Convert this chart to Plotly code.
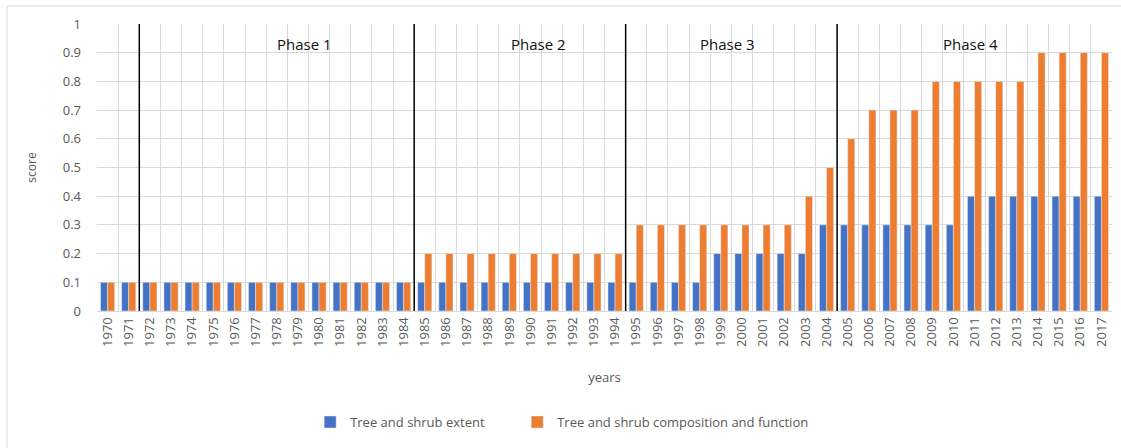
"""Tree and shrub scores by year, grouped bars with phase dividers."""
import plotly.graph_objects as go

YEARS = [str(y) for y in range(1970, 2018)]

EXTENT = [
    0.1, 0.1, 0.1, 0.1, 0.1, 0.1, 0.1, 0.1, 0.1, 0.1,   # 1970-1979
    0.1, 0.1, 0.1, 0.1, 0.1, 0.1, 0.1, 0.1, 0.1, 0.1,   # 1980-1989
    0.1, 0.1, 0.1, 0.1, 0.1, 0.1, 0.1, 0.1, 0.1, 0.2,   # 1990-1999
    0.2, 0.2, 0.2, 0.2, 0.3, 0.3, 0.3, 0.3, 0.3, 0.3,   # 2000-2009
    0.3, 0.4, 0.4, 0.4, 0.4, 0.4, 0.4, 0.4,             # 2010-2017
]
COMPOSITION = [
    0.1, 0.1, 0.1, 0.1, 0.1, 0.1, 0.1, 0.1, 0.1, 0.1,   # 1970-1979
    0.1, 0.1, 0.1, 0.1, 0.1, 0.2, 0.2, 0.2, 0.2, 0.2,   # 1980-1989
    0.2, 0.2, 0.2, 0.2, 0.2, 0.3, 0.3, 0.3, 0.3, 0.3,   # 1990-1999
    0.3, 0.3, 0.3, 0.4, 0.5, 0.6, 0.7, 0.7, 0.7, 0.8,   # 2000-2009
    0.8, 0.8, 0.8, 0.8, 0.9, 0.9, 0.9, 0.9,             # 2010-2017
]

PHASE_STARTS = ["1972", "1985", "1995", "2005"]
PHASE_LABELS = ["Phase 1", "Phase 2", "Phase 3", "Phase 4"]
PHASE_LABEL_X = [9.3, 20.4, 29.3, 40.8]  # category index where each label sits

BLUE = "#4472C4"
ORANGE = "#ED7D31"
FONT = "Open Sans"

fig = go.Figure()
fig.add_trace(go.Bar(x=YEARS, y=EXTENT, name="Tree and shrub extent", marker_color=BLUE,
                     legend="legend", showlegend=True))
fig.add_trace(go.Bar(x=YEARS, y=COMPOSITION, name="Tree and shrub composition and function",
                     marker_color=ORANGE, legend="legend2", showlegend=True))

# phase dividers on category boundaries
for start in PHASE_STARTS:
    xi = YEARS.index(start) - 0.5
    fig.add_shape(type="line", xref="x", yref="y", x0=xi, x1=xi, y0=0, y1=1,
                  line=dict(color="#000000", width=1.5))

for label, xi in zip(PHASE_LABELS, PHASE_LABEL_X):
    fig.add_annotation(x=xi, y=0.93, xref="x", yref="y", text=label, showarrow=False,
                       font=dict(family=FONT, size=15, color="#111111"))

# chart area border
fig.add_shape(type="rect", xref="paper", yref="paper", x0=-0.0887, x1=1.013, y0=-0.491, y1=1.063,
              line=dict(color="#D9D9D9", width=1), layer="below")

legend_common = dict(orientation="h", xanchor="left", y=-0.387, yanchor="middle",
                     font=dict(size=13), itemwidth=30)

fig.update_layout(
    width=1121, height=448,
    margin=dict(l=97, r=9, t=24, b=137),
    paper_bgcolor="white", plot_bgcolor="white",
    showlegend=True,
    barmode="group", bargap=0.33, bargroupgap=0,
    font=dict(family=FONT, size=13, color="#595959"),
    xaxis=dict(type="category", tickson="boundaries", showgrid=True, gridcolor="#D9D9D9",
               ticks="", tickangle=-90, tickfont=dict(size=13),
               showline=True, linecolor="#D9D9D9",
               title=dict(text="years", font=dict(size=13), standoff=26)),
    yaxis=dict(range=[0, 1], dtick=0.1, showgrid=True, gridcolor="#D9D9D9", zeroline=False,
               tickformat="~g", tickfont=dict(size=13), ticks="", ticklabelstandoff=15,
               title=dict(text="score", font=dict(size=12), standoff=23)),
    legend=dict(x=0.21, **legend_common),
    legend2=dict(x=0.414, **legend_common),
)

fig.write_html("out.html", config={"displayModeBar": False})

# drop the default page margin so the figure sits at the window origin
with open("out.html", encoding="utf-8") as f:
    html = f.read()
html = html.replace("<body>", '<body style="margin:0">', 1)
with open("out.html", "w", encoding="utf-8") as f:
    f.write(html)
